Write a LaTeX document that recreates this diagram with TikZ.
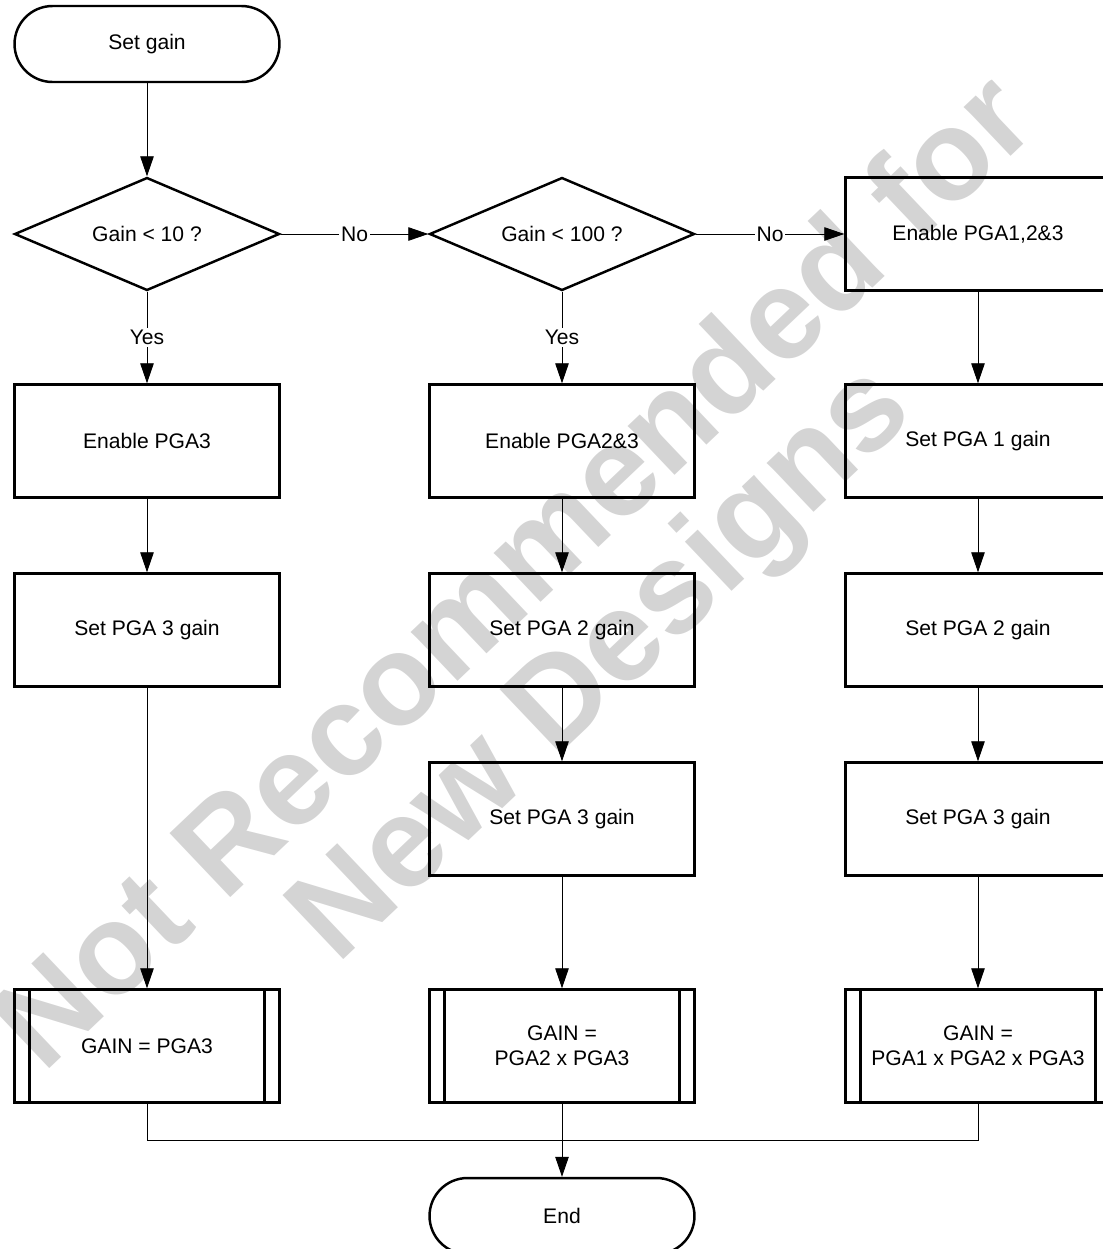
\documentclass[tikz,border=0pt]{standalone}
\usepackage{fontspec}
\setmainfont{Liberation Sans}
\usetikzlibrary{shapes.geometric}
\usetikzlibrary{arrows.meta}

\begin{document}
\begin{tikzpicture}[x=0.02cm, y=-0.02cm,
  every node/.style={font=\fontsize{12}{14}\selectfont},
  box/.style={draw, line width=1.4pt, minimum width=5.3cm, minimum height=2.26cm, inner sep=0pt, align=center},
  terminal/.style={draw, line width=1.4pt, rounded corners=0.76cm, minimum width=5.3cm, minimum height=1.52cm, inner sep=0pt},
  decision/.style={draw, diamond, aspect=2.35, line width=1.4pt, minimum width=5.3cm, minimum height=2.26cm, inner sep=0pt},
  flow/.style={line width=0.5pt, -{Triangle[length=0.4cm, width=0.27cm]}},
  mergeline/.style={line width=0.5pt},
  answer/.style={fill=white, inner sep=1pt}]

\useasboundingbox (0,0) rectangle (1103,1249);

% start and questions
\node[terminal] (start) at (147,44) {Set gain};
\node[decision] (lt10) at (147,234) {Gain < 10 ?};
\node[decision] (lt100) at (562,234) {Gain < 100 ?};
\node[box] (en123) at (978,234) {Enable PGA1,2\&3};

% gain < 10
\node[box] (en3) at (147,441) {Enable PGA3};
\node[box] (set3a) at (147,630) {Set PGA 3 gain};
\node[box] (gain1) at (147,1046) {GAIN = PGA3};

% gain < 100
\node[box] (en23) at (562,441) {Enable PGA2\&3};
\node[box] (set2b) at (562,630) {Set PGA 2 gain};
\node[box] (set3b) at (562,819) {Set PGA 3 gain};
\node[box] (gain2) at (562,1046) {GAIN =\\PGA2 x PGA3};

% all three
\node[box] (set1c) at (978,441) {Set PGA 1 gain};
\node[box] (set2c) at (978,630) {Set PGA 2 gain};
\node[box] (set3c) at (978,819) {Set PGA 3 gain};
\node[box] (gain3) at (978,1046) {GAIN =\\PGA1 x PGA2 x PGA3};

\node[terminal] (end) at (562,1216) {End};
\coordinate (merge) at (562,1140);

\foreach \g in {gain1,gain2,gain3}
{
\draw[line width=1.4pt] ([xshift=0.32cm]\g.north west) -- ([xshift=0.32cm]\g.south west);
\draw[line width=1.4pt] ([xshift=-0.32cm]\g.north east) -- ([xshift=-0.32cm]\g.south east);
}

\draw[flow] (start) -- (lt10);
\draw[flow] (lt10) -- node[answer] {No} (lt100);
\draw[flow] (lt100) -- node[answer] {No} (en123);
\draw[flow] (lt10) -- node[answer] {Yes} (en3);
\draw[flow] (lt100) -- node[answer] {Yes} (en23);

\draw[flow] (en3) -- (set3a);
\draw[flow] (set3a) -- (gain1);

\draw[flow] (en23) -- (set2b);
\draw[flow] (set2b) -- (set3b);
\draw[flow] (set3b) -- (gain2);

\draw[flow] (en123) -- (set1c);
\draw[flow] (set1c) -- (set2c);
\draw[flow] (set2c) -- (set3c);
\draw[flow] (set3c) -- (gain3);

\draw[mergeline] (gain1) |- (merge);
\draw[mergeline] (gain3) |- (merge);
\draw[flow] (gain2) -- (end);

% watermark
\node[rotate=43.5, text=black, text opacity=0.17, align=center,
  font=\fontsize{73}{70}\selectfont\bfseries] (mark) at (562,622)
  {Not Recommended for\\New Designs};

\end{tikzpicture}
\end{document}
